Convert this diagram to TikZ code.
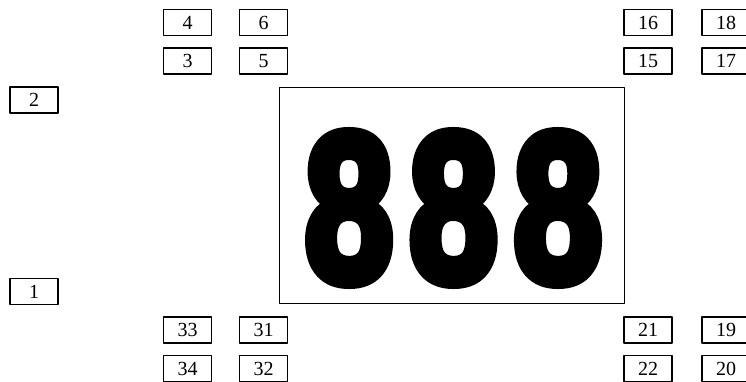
\documentclass[tikz,border=0pt]{standalone}
\usepackage{fontspec}
\usepackage{graphicx}
\usetikzlibrary{positioning}
\newfontfamily\numfont{Liberation Serif}
\newfontfamily\heavyfont{Liberation Sans Bold}[FakeBold=6]
\tikzset{
    every picture/.style={line cap=round,line join=round},
    numbox/.style={draw=black,line width=1.2pt,minimum width=48pt,minimum height=26pt,
      inner sep=0pt,outer sep=0pt,font=\numfont\fontsize{20}{22}\selectfont},
    panel/.style={draw=black,line width=1.5pt,minimum width=345pt,minimum height=216pt,
      inner sep=0pt,outer sep=0pt}
}
\begin{document}
\begin{tikzpicture}[x=1pt,y=-1pt]
  \useasboundingbox (0,0) rectangle (746,382);
  % display panel
  \node[panel] (panel) at (452,195.3) {};
  \node[inner sep=0pt] (digits) at (453.5,208)
    {\resizebox{297pt}{147pt}{\heavyfont 8\kern1pt8\kern1pt8}};
  % left column
  \node[numbox] (b2) at (34,100) {2};
  \node[numbox] (b1) at (34,291.5) {1};
  % top left group
  \node[numbox] (b4) at (187.5,22.5) {4};
  \node[numbox,below=12.5pt of b4] (b3) {3};
  \node[numbox,right=28pt of b4] (b6) {6};
  \node[numbox,below=12.5pt of b6] (b5) {5};
  % top right group
  \node[numbox] (b16) at (648,22.5) {16};
  \node[numbox,below=12.5pt of b16] (b15) {15};
  \node[numbox,right=30pt of b16] (b18) {18};
  \node[numbox,below=12.5pt of b18] (b17) {17};
  % bottom left group
  \node[numbox] (b33) at (187.5,330) {33};
  \node[numbox,below=12.5pt of b33] (b34) {34};
  \node[numbox,right=28pt of b33] (b31) {31};
  \node[numbox,below=12.5pt of b31] (b32) {32};
  % bottom right group
  \node[numbox] (b21) at (648,330) {21};
  \node[numbox,below=12.5pt of b21] (b22) {22};
  \node[numbox,right=30pt of b21] (b19) {19};
  \node[numbox,below=12.5pt of b19] (b20) {20};
\end{tikzpicture}
\end{document}
